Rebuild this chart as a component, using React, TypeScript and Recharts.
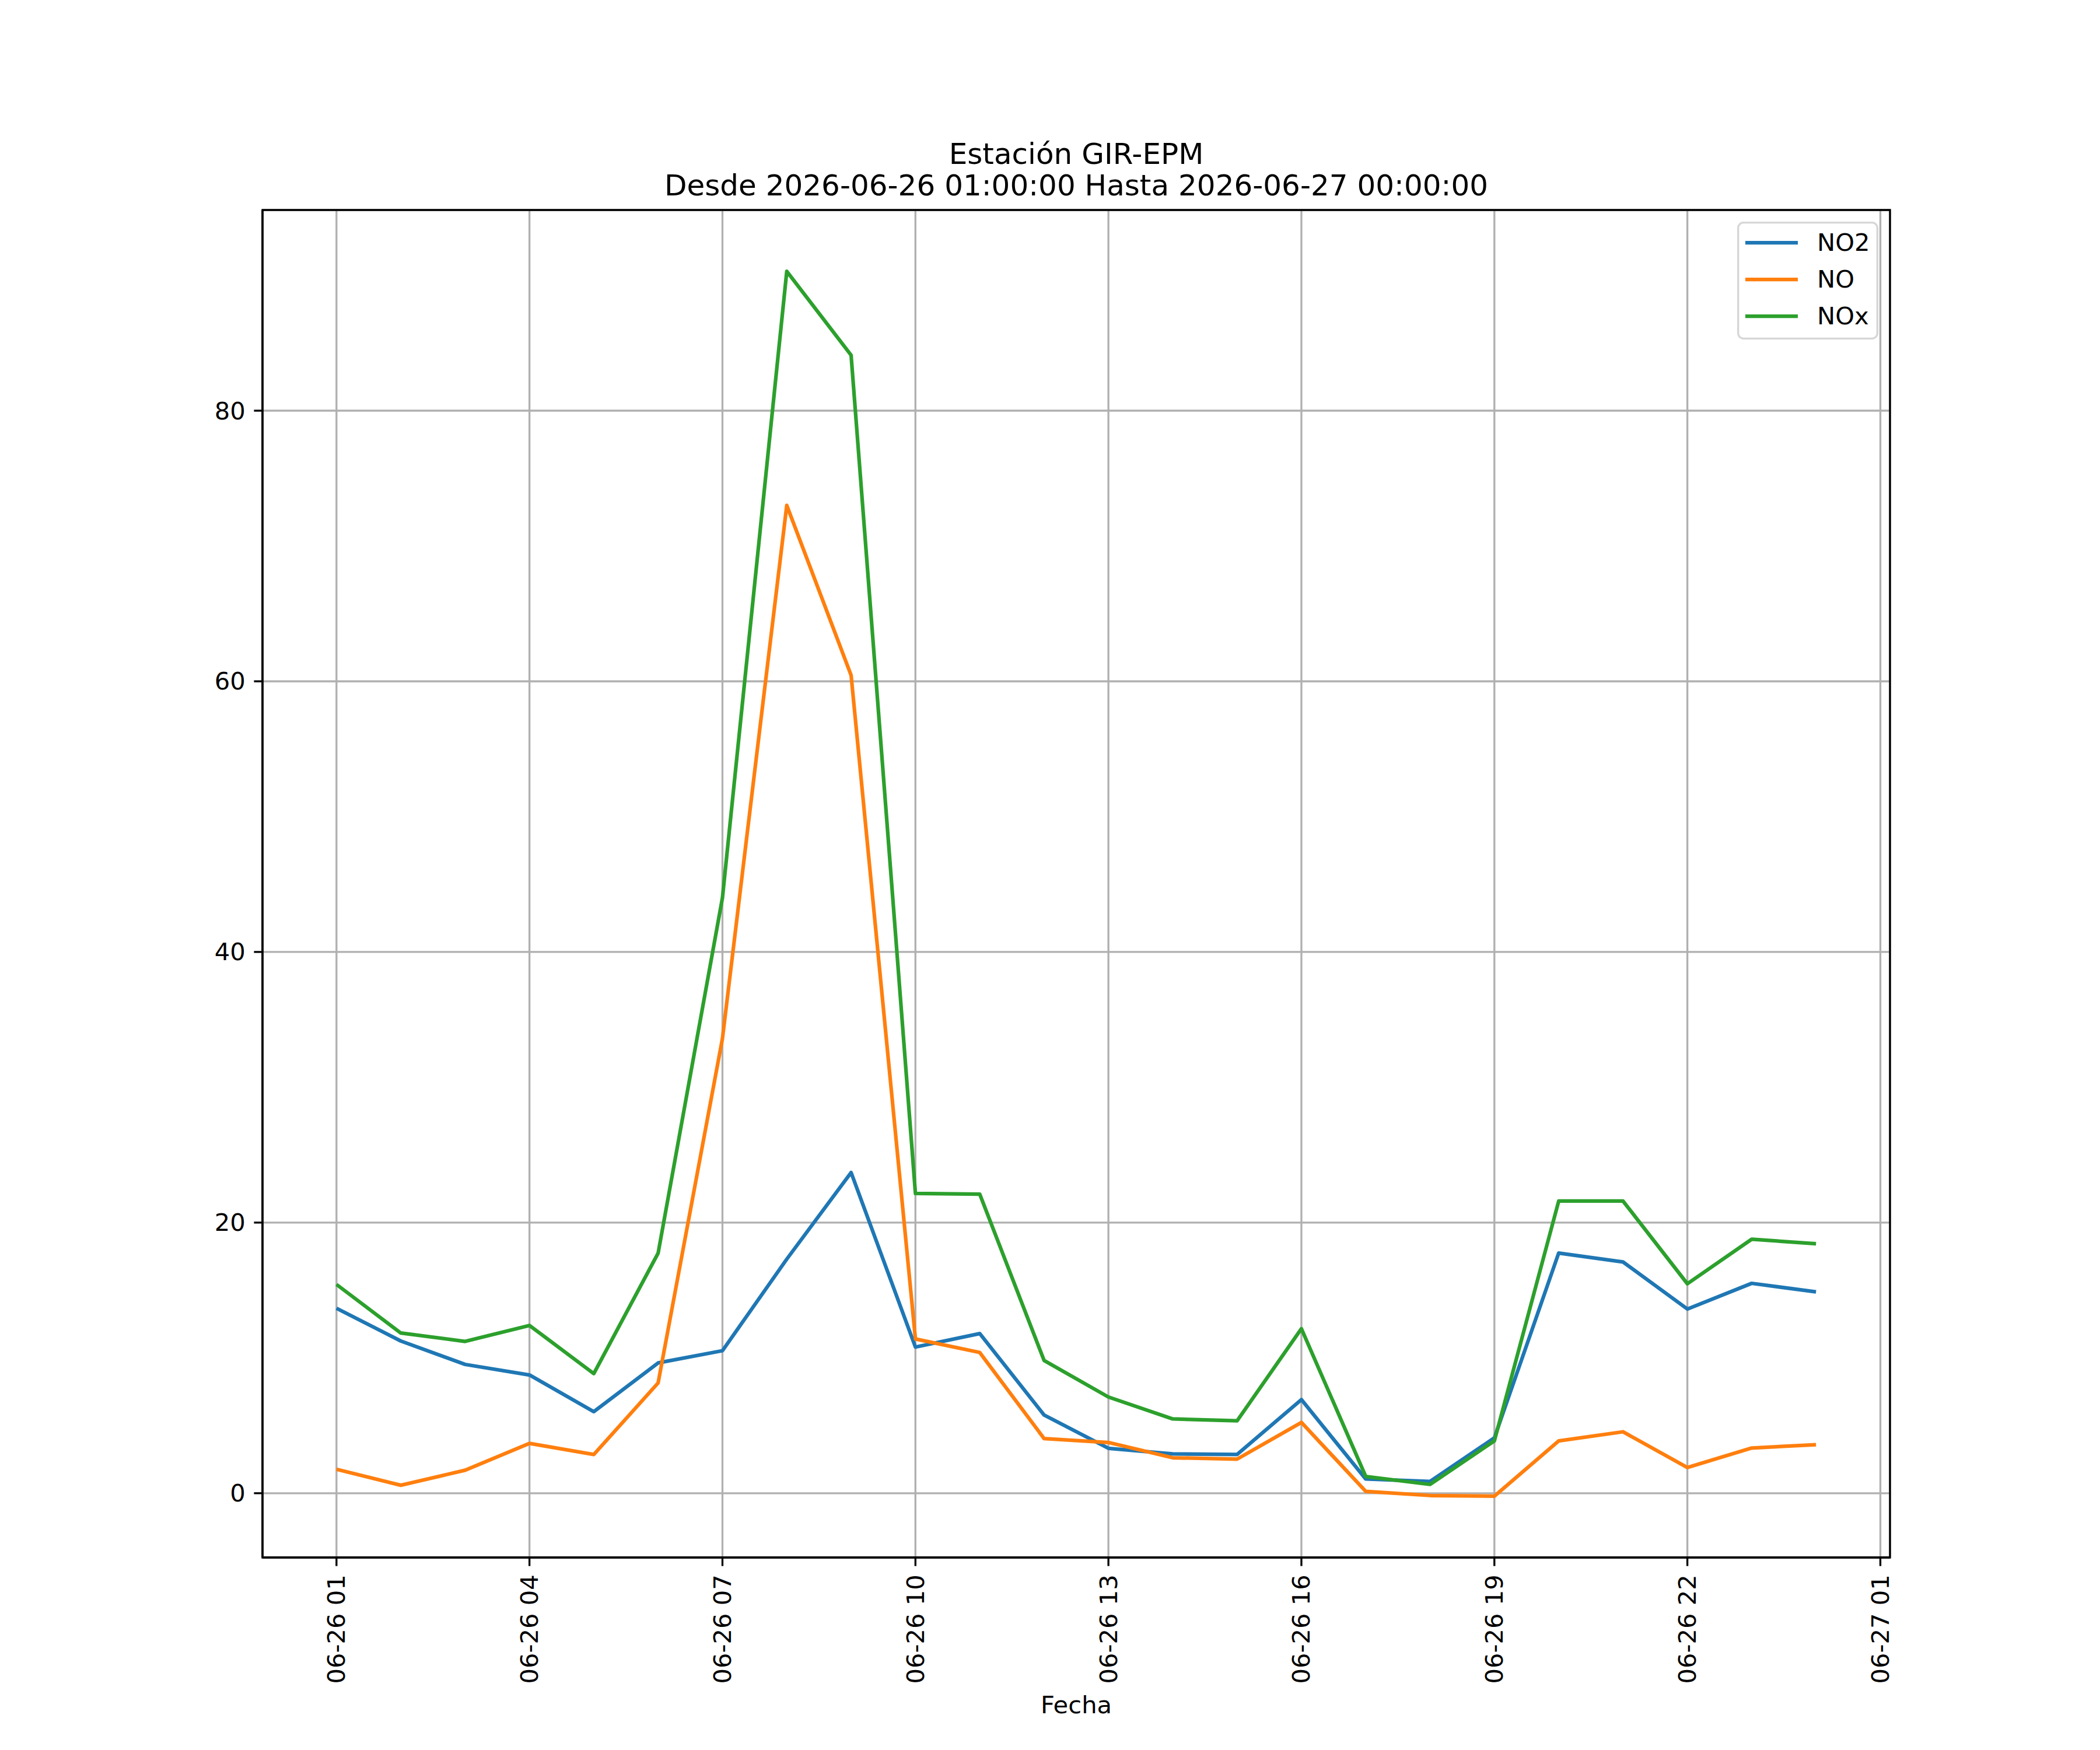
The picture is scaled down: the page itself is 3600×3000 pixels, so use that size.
import React from 'react';
import { LineChart, Line, XAxis, YAxis, CartesianGrid, Legend, ReferenceArea } from 'recharts';

// hours since 2026-06-26 00:00
const hours = [1, 2, 3, 4, 5, 6, 7, 8, 9, 10, 11, 12, 13, 14, 15, 16, 17, 18, 19, 20, 21, 22, 23, 24];
const no2 = [13.67, 11.25, 9.52, 8.74, 6.03, 9.63, 10.53, 17.3, 23.7, 10.8, 11.8, 5.78, 3.32, 2.91, 2.86, 6.92, 1.05, 0.87, 4.09, 17.75, 17.09, 13.61, 15.51, 14.88];
const no = [1.77, 0.59, 1.7, 3.68, 2.86, 8.15, 33.6, 73.0, 60.45, 11.4, 10.4, 4.04, 3.75, 2.62, 2.52, 5.23, 0.14, -0.17, -0.22, 3.87, 4.54, 1.9, 3.34, 3.59];
const nox = [15.43, 11.84, 11.22, 12.4, 8.84, 17.74, 44.0, 90.3, 84.1, 22.15, 22.1, 9.81, 7.11, 5.49, 5.35, 12.16, 1.24, 0.65, 3.87, 21.59, 21.59, 15.48, 18.77, 18.44];

const xTicks = [1, 4, 7, 10, 13, 16, 19, 22, 25];
const xTickLabels = ['06-26 01', '06-26 04', '06-26 07', '06-26 10', '06-26 13', '06-26 16', '06-26 19', '06-26 22', '06-27 01'];
const yTicks = [0, 20, 40, 60, 80];

const xDomain = [-0.15, 25.15];
const yDomain = [-4.75, 94.83];

const seriesNames = ['NO2', 'NO', 'NOx'];
const seriesColors = ['#1f77b4', '#ff7f0e', '#2ca02c'];

const data = hours.map((h, i) => ({ h, NO2: no2[i], NO: no[i], NOx: nox[i] }));

const FONT = 'DejaVu Sans';
const FS = 41.67;

const XTick = (props: any) => {
  const { x, y, payload } = props;
  const idx = xTicks.indexOf(payload.value);
  const label = idx >= 0 ? xTickLabels[idx] : String(payload.value);
  return (
    <text
      x={x}
      y={y}
      transform={`rotate(-90, ${x}, ${y})`}
      textAnchor="end"
      dominantBaseline="central"
      fontFamily={FONT}
      fontSize={FS}
      fill="#000"
    >
      {label}
    </text>
  );
};

const YTick = (props: any) => {
  const { x, y, payload } = props;
  return (
    <text x={x} y={y} textAnchor="end" dominantBaseline="central" fontFamily={FONT} fontSize={FS} fill="#000">
      {payload.value}
    </text>
  );
};

const LegendBox = (props: any) => {
  const payload = [...(props.payload || [])].sort(
    (a: any, b: any) => seriesNames.indexOf(a.value) - seriesNames.indexOf(b.value)
  );
  return (
    <svg width={242} height={202} style={{ display: 'block', overflow: 'visible' }}>
      <rect x={1.7} y={1.7} width={238.6} height={198.6} rx={9} ry={9} fill="rgba(255,255,255,0.8)" stroke="#d6d6d6" strokeWidth={3.33} />
      {payload.map((p: any, i: number) => (
        <g key={p.value}>
          <line x1={14} x2={104} y1={36 + i * 63} y2={36 + i * 63} stroke={p.color} strokeWidth={6.25} />
          <text x={137} y={50 + i * 63} fontFamily={FONT} fontSize={FS} fill="#000">
            {p.value}
          </text>
        </g>
      ))}
    </svg>
  );
};

export default function App() {
  return (
    <div style={{ position: 'absolute', left: 0, top: 0, width: 3600, height: 3000, background: '#fff' }}>
      <LineChart
        width={3600}
        height={3000}
        data={data}
        margin={{ top: 360, right: 360, bottom: 30, left: 300 }}
      >
        <CartesianGrid stroke="#b0b0b0" strokeWidth={3.33} />
        <XAxis
          dataKey="h"
          type="number"
          domain={xDomain}
          ticks={xTicks}
          allowDataOverflow
          height={300}
          tickSize={14.6}
          tickMargin={14.6}
          axisLine={{ stroke: '#000', strokeWidth: 3.33 }}
          tickLine={{ stroke: '#000', strokeWidth: 3.33 }}
          tick={<XTick />}
          interval={0}
        />
        <YAxis
          type="number"
          domain={yDomain}
          ticks={yTicks}
          allowDataOverflow
          width={150}
          tickSize={14.6}
          tickMargin={14.6}
          axisLine={{ stroke: '#000', strokeWidth: 3.33 }}
          tickLine={{ stroke: '#000', strokeWidth: 3.33 }}
          tick={<YTick />}
          interval={0}
        />
        {seriesNames.map((n, i) => (
          <Line
            key={n}
            type="linear"
            dataKey={n}
            name={n}
            stroke={seriesColors[i]}
            strokeWidth={6.25}
            dot={false}
            activeDot={false}
            isAnimationActive={false}
            strokeLinejoin="round"
          />
        ))}
        <ReferenceArea
          x1={xDomain[0]}
          x2={xDomain[1]}
          y1={yDomain[0]}
          y2={yDomain[1]}
          fill="none"
          fillOpacity={0}
          stroke="#000"
          strokeWidth={3.33}
          ifOverflow="visible"
        />
        <Legend
          layout="horizontal"
          verticalAlign="middle"
          align="center"
          itemSorter={null as any}
          content={<LegendBox />}
          wrapperStyle={{ position: 'absolute', left: 2978, top: 380, width: 242, height: 202 }}
        />
      </LineChart>
      <svg
        width={3600}
        height={3000}
        style={{ position: 'absolute', left: 0, top: 0, pointerEvents: 'none' }}
      >
        <text x={1845} y={281} textAnchor="middle" fontFamily={FONT} fontSize={50} fill="#000">
          Estación GIR-EPM
        </text>
        <text x={1845} y={335} textAnchor="middle" fontFamily={FONT} fontSize={50} fill="#000">
          Desde 2026-06-26 01:00:00 Hasta 2026-06-27 00:00:00
        </text>
        <text x={1845} y={2937} textAnchor="middle" fontFamily={FONT} fontSize={FS} fill="#000">
          Fecha
        </text>
      </svg>
    </div>
  );
}
